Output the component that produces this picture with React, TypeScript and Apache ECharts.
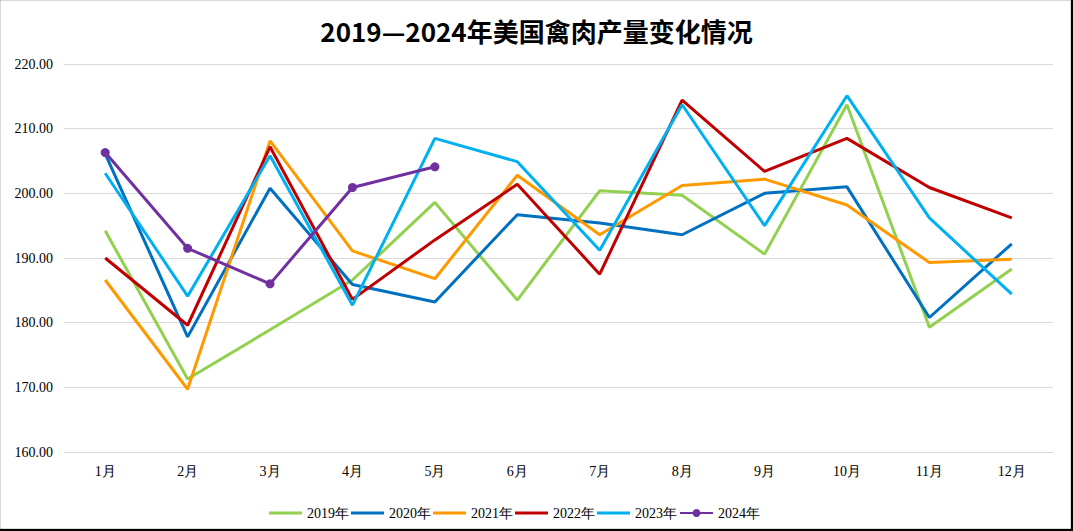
import React, { useEffect, useRef } from "react";
import * as echarts from "echarts";

const months = ["1月", "2月", "3月", "4月", "5月", "6月", "7月", "8月", "9月", "10月", "11月", "12月"];
const seriesNames = ["2019年", "2020年", "2021年", "2022年", "2023年", "2024年"];
const colors = ["#92D050", "#0070C0", "#FF9900", "#C00000", "#00B0F0", "#7030A0"];

const y2019 = [194.2, 171.3, 178.9, 186.6, 198.6, 183.5, 200.4, 199.7, 190.6, 213.7, 179.3, 188.3];
const y2020 = [206.1, 177.8, 200.8, 185.9, 183.2, 196.7, 195.4, 193.6, 200.0, 201.0, 180.8, 192.2];
const y2021 = [186.6, 169.7, 208.1, 191.1, 186.8, 202.8, 193.6, 201.2, 202.2, 198.2, 189.3, 189.8];
const y2022 = [190.0, 179.6, 207.2, 183.6, 192.8, 201.4, 187.5, 214.4, 203.4, 208.5, 200.9, 196.2];
const y2023 = [203.1, 184.1, 205.8, 182.7, 208.5, 204.9, 191.2, 213.7, 195.0, 215.1, 196.2, 184.4];
const y2024 = [206.3, 191.5, 186.0, 200.9, 204.1];

const yMin = 160;
const yMax = 220;
const yInterval = 10;

const lineIcon =
  "path://M0,0 L0.01,0 L0.01,0.01 Z M0,3.5 L33,3.5 L33,6.5 L0,6.5 Z M0,10 L0.01,10 L0.01,9.99 Z";

export default function App() {
  const ref = useRef<HTMLDivElement>(null);
  useEffect(() => {
    if (!ref.current) return;
    const chart = echarts.init(ref.current, undefined, { renderer: "svg" });
    const data = [y2019, y2020, y2021, y2022, y2023, y2024];
    const serif = "'Liberation Serif', 'Times New Roman', serif";
    chart.setOption({
      animation: false,
      graphic: [
        {
          type: "rect",
          z: -100,
          silent: true,
          shape: { x: 0.5, y: 0.5, width: 1070, height: 528 },
          style: { fill: "#ffffff", stroke: "#d9d9d9", lineWidth: 1 },
        },
      ],
      title: {
        text: "2019—2024年美国禽肉产量变化情况",
        left: "center",
        top: 12,
        textStyle: {
          fontFamily: "'Noto Sans CJK SC', sans-serif",
          fontSize: 26,
          fontWeight: "bold",
          color: "#000000",
        },
      },
      legend: {
        bottom: 6,
        left: 264,
        itemWidth: 33,
        itemHeight: 10,
        itemGap: 2,
        textStyle: { fontFamily: serif, fontSize: 14, color: "#000" },
        data: seriesNames.map((name, i) => (i === 5 ? { name } : { name, icon: lineIcon })),
      },
      grid: { left: 64, right: 20, top: 64, bottom: 79, containLabel: false },
      xAxis: {
        type: "category",
        data: months,
        boundaryGap: true,
        axisLine: { show: true, lineStyle: { color: "#d9d9d9" } },
        axisTick: { show: false },
        axisLabel: { fontFamily: serif, fontSize: 14, color: "#000", margin: 12 },
      },
      yAxis: {
        type: "value",
        min: yMin,
        max: yMax,
        interval: yInterval,
        axisLine: { show: false },
        axisTick: { show: false },
        splitLine: { lineStyle: { color: "#d9d9d9" } },
        axisLabel: {
          fontFamily: serif,
          fontSize: 14,
          color: "#000",
          margin: 11,
          formatter: (v: number) => v.toFixed(2),
        },
      },
      series: seriesNames.map((name, i) => ({
        name,
        type: "line",
        data: data[i],
        color: colors[i],
        lineStyle: { width: 3, color: colors[i] },
        itemStyle: { color: colors[i] },
        symbol: i === 5 ? "circle" : "none",
        symbolSize: 9,
        showSymbol: i === 5,
        z: 2 + i,
      })),
    });
    return () => chart.dispose();
  }, []);
  return (
    <div
      ref={ref}
      style={{ position: "fixed", left: 0, top: 0, width: 1073, height: 531, background: "#000" }}
    />
  );
}
